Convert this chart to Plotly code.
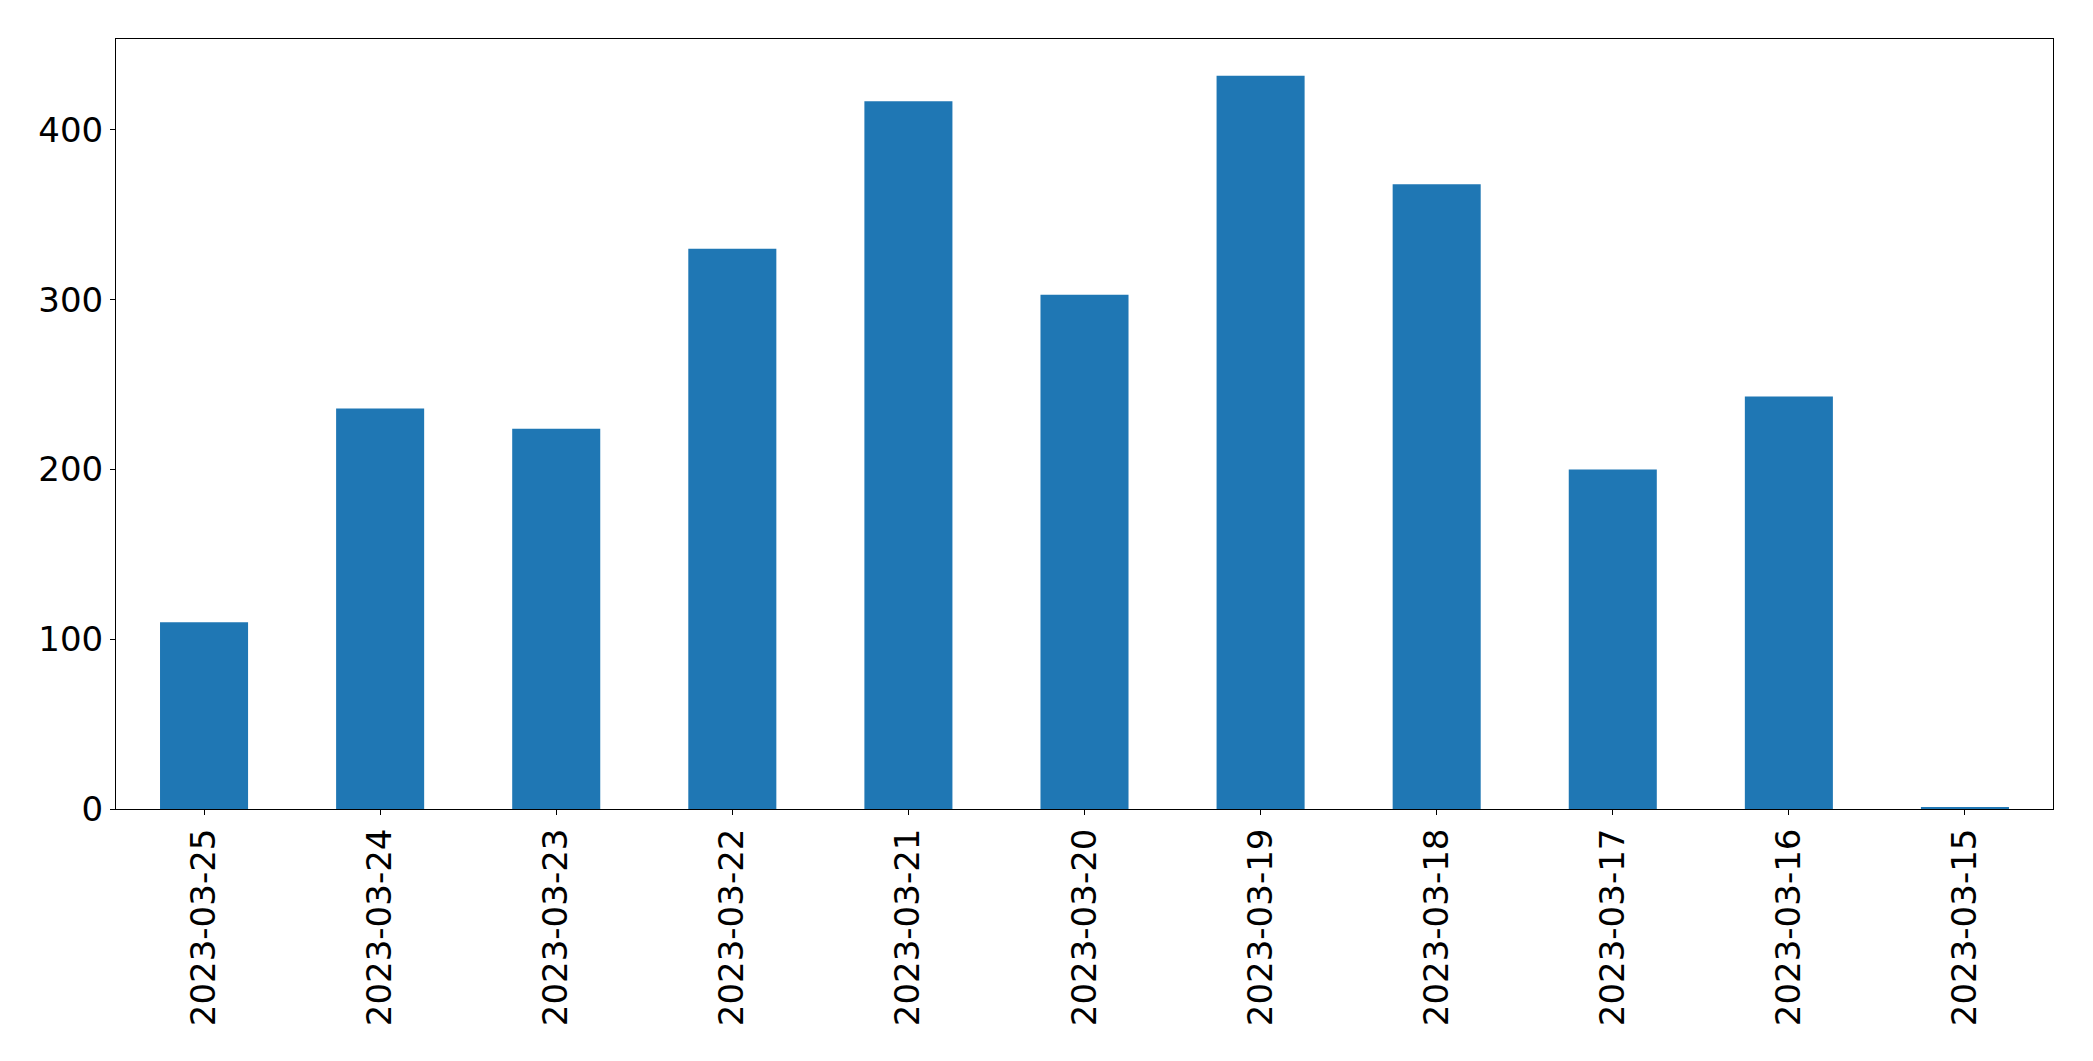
import plotly.graph_objects as go

dates = ["2023-03-25", "2023-03-24", "2023-03-23", "2023-03-22", "2023-03-21",
         "2023-03-20", "2023-03-19", "2023-03-18", "2023-03-17", "2023-03-16",
         "2023-03-15"]
counts = [110, 236, 224, 330, 417, 303, 432, 368, 200, 243, 1]
y_ticks = [0, 100, 200, 300, 400]

fig = go.Figure(go.Bar(
    x=dates, y=counts, width=0.5,
    marker=dict(color="#1f77b4", line=dict(width=0)),
))

axis_common = dict(
    showline=True, linecolor="black", linewidth=1, mirror=True,
    ticks="outside", ticklen=5, tickwidth=1, tickcolor="black",
    showgrid=False, zeroline=False,
    tickfont=dict(family="DejaVu Sans", size=34, color="black"),
)

fig.update_layout(
    width=2093, height=1061,
    margin=dict(l=108, r=48, t=31, b=260),
    paper_bgcolor="white", plot_bgcolor="white",
    showlegend=False,
    bargap=0.5,
    xaxis=dict(type="category", range=[-0.5, 10.5], tickangle=-90, **axis_common),
    yaxis=dict(range=[0, 453.6], tickvals=y_ticks, **axis_common),
)

fig.write_html("out.html")
